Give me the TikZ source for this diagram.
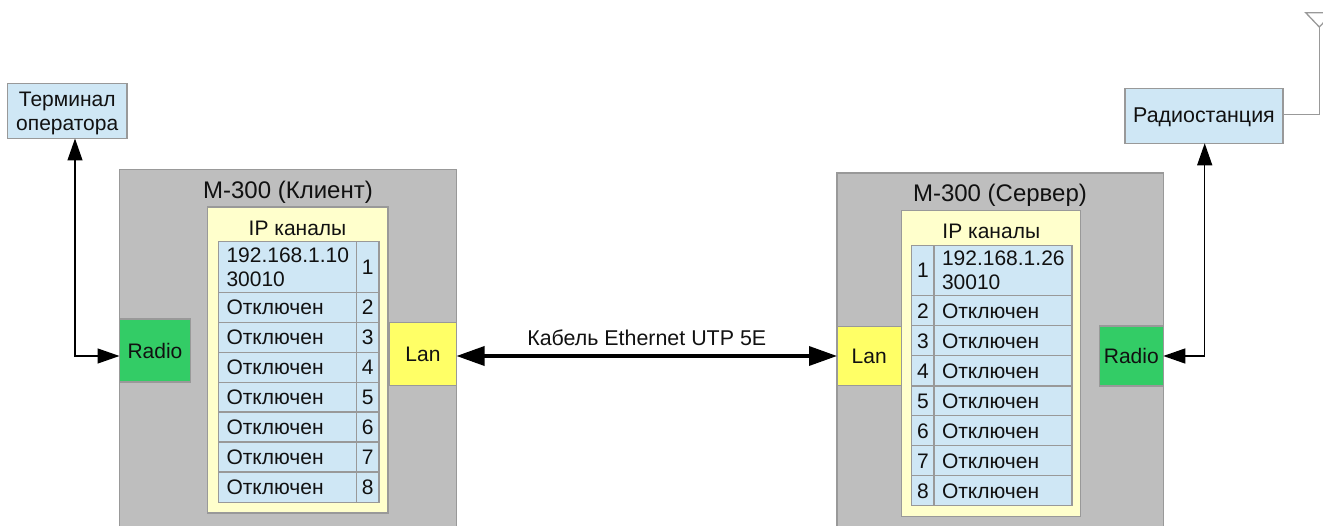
\documentclass[tikz,border=0pt]{standalone}
\usepackage{fontspec}
\setmainfont{Liberation Sans}
\usetikzlibrary{arrows.meta}
\definecolor{paleblue}{HTML}{CFE7F5}
\definecolor{devgrey}{HTML}{BEBEBE}
\definecolor{paleyellow}{HTML}{FFFFCC}
\definecolor{lanyellow}{HTML}{FFFF66}
\definecolor{radiogreen}{HTML}{33CC66}
\definecolor{edgegrey}{HTML}{999999}
\definecolor{inkblack}{HTML}{111111}
\newcommand{\nudge}[2]{\raisebox{-#1pt}[\height][\depth]{#2}}
\tikzset{
  x=1pt,y=-1pt,
  every node/.style={font=\fontsize{21}{24}\selectfont,text=inkblack,inner sep=0pt,outer sep=0pt,align=center},
  bigtext/.style={font=\fontsize{24}{28}\selectfont},
  midtext/.style={font=\fontsize{21.4}{24}\selectfont},
  bx/.style={draw=edgegrey,line width=1.3pt},
  bluebox/.style={bx,fill=paleblue},
  device/.style={bx,fill=devgrey},
  channels/.style={bx,fill=paleyellow},
  lanbox/.style={bx,fill=lanyellow},
  radiobox/.style={bx,fill=radiogreen},
  txtcell/.style={bluebox,align=left},
  thinlink/.style={line width=1.3pt,color=black,{Triangle[length=22pt,width=15pt]}-{Triangle[length=22pt,width=15pt]}},
  cablelink/.style={line width=3.5pt,color=black,{Triangle[length=28pt,width=19pt]}-{Triangle[length=28pt,width=19pt]}},
  antline/.style={line width=1.3pt,color=edgegrey}
}
% name, x1, y1, x2, y2, style, text
\newcommand{\pxbox}[7]{%
  \node[#6,minimum width={(#4)-(#2)},minimum height={(#5)-(#3)},anchor=center] (#1)
    at ({((#2)+(#4))/2},{((#3)+(#5))/2}) {#7};}
% left-aligned cell with fixed inner padding 8
\newcommand{\pxcell}[6]{%
  \node[txtcell,text width={(#4)-(#2)-16pt},inner xsep=8pt,minimum height={(#5)-(#3)},anchor=center] (#1)
    at ({((#2)+(#4))/2},{((#3)+(#5))/2}) {#6};}
\begin{document}
\begin{tikzpicture}
\clip (0,0) rectangle (1323,526);
\useasboundingbox (0,0) rectangle (1323,526);

% client
\pxbox{term}{7.5}{83.5}{127}{138.5}{bluebox}{\nudge{2}{Терминал}\\\nudge{2}{оператора}}
\pxbox{mc}{119.5}{169.5}{456.5}{560}{device}{}
\node[bigtext] (mclabel) at (288,192) {М-300 (Клиент)};
\pxbox{yc}{207.5}{207}{388}{513}{channels}{}
\node (iplc) at (297.5,228) {IP каналы};
\pxbox{rc}{119.5}{319}{190.5}{382}{radiobox}{Radio}
\pxbox{lc}{389.5}{322.5}{456.5}{385.5}{lanbox}{Lan}
\pxcell{ct1}{218.5}{241.5}{356.5}{292.3}{192.168.1.10\\30010}
\pxbox{cn1}{356.5}{241.5}{379}{292.3}{bluebox}{1}
\foreach \i/\a/\b in {2/292.3/322.3,3/322.3/352.3,4/352.3/382.3,5/382.3/412,6/412/442,7/442/472,8/472/502.5}{
  \pxcell{ct\i}{218.5}{\a}{356.5}{\b}{Отключен}
  \pxbox{cn\i}{356.5}{\a}{379}{\b}{bluebox}{\i}
}

% server
\pxbox{radst}{1125}{88.3}{1283}{143.3}{bluebox,midtext}{\nudge{1}{Радиостанция}}
\pxbox{ms}{837}{173}{1163.3}{560}{device}{}
\node[bigtext] (mslabel) at (1000,195) {М-300 (Сервер)};
\pxbox{ys}{901.7}{210.7}{1080.3}{516.3}{channels}{}
\node (ipls) at (991.3,231.5) {IP каналы};
\pxbox{ls}{837}{326.3}{901.5}{385.7}{lanbox}{Lan}
\pxbox{rs}{1099.3}{326}{1163.3}{386}{radiobox}{Radio}
\pxbox{sn1}{911.7}{245.3}{934}{295.7}{bluebox}{1}
\pxcell{st1}{934}{245.3}{1072}{295.7}{192.168.1.26\\30010}
\foreach \i/\a/\b in {2/295.7/325.7,3/325.7/355.7,4/355.7/386,5/386/415.7,6/415.7/445.7,7/445.7/475.7,8/475.7/505.7}{
  \pxbox{sn\i}{911.7}{\a}{934}{\b}{bluebox}{\nudge{0.7}{\i}}
  \pxcell{st\i}{934}{\a}{1072}{\b}{\nudge{0.7}{Отключен}}
}

% connectors
\draw[thinlink] (term.south -| 75,0) -- (75,0 |- rs.east) -- (rc.west |- rs.east);
\draw[thinlink] (radst.south -| 1204.7,0) -- (1204.7,0 |- rs.east) -- (rs.east);
\draw[cablelink] (lc.east |- ls.west) -- node[above=10pt,midtext] (cablelabel) {Кабель Ethernet UTP 5E} (ls.west);

% antenna
\coordinate (antapex) at (1319.3,27);
\coordinate (antfeed) at ([yshift=1.2pt]radst.east);
\draw[antline] (antfeed) -| (antapex);
\draw[antline] (antapex) -- (1305.7,12.7) -- (1333,12.7) -- cycle;
\end{tikzpicture}
\end{document}
